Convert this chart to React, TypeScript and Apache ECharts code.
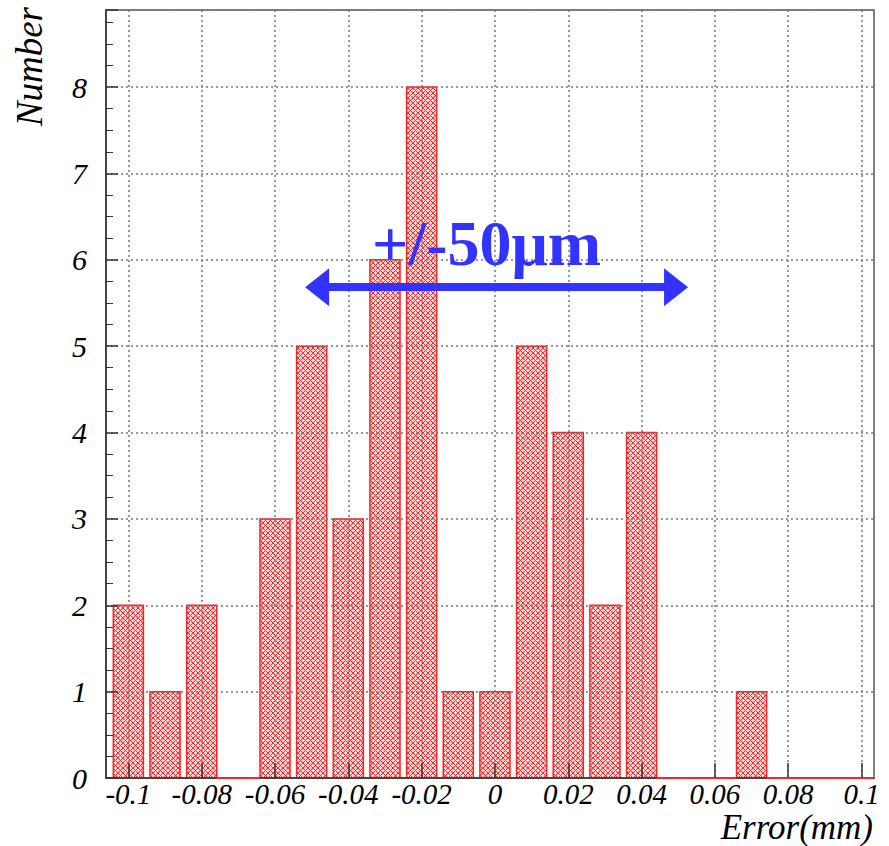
import React, { useEffect, useRef } from "react";
import * as echarts from "echarts";

// Histogram bins (centres, mm) and counts
const binCenters = [
  -0.1, -0.09, -0.08, -0.07, -0.06, -0.05, -0.04, -0.03, -0.02, -0.01, 0,
  0.01, 0.02, 0.03, 0.04, 0.05, 0.06, 0.07, 0.08, 0.09, 0.1,
];
const counts = [2, 1, 2, 0, 3, 5, 3, 6, 8, 1, 1, 5, 4, 2, 4, 0, 0, 1, 0, 0, 0];
const xTicks = [-0.1, -0.08, -0.06, -0.04, -0.02, 0, 0.02, 0.04, 0.06, 0.08, 0.1];
const arrowRange = [-0.0485, 0.0494];
const arrowLevel = 5.683;
const annotation = "+/-50\u03bcm";

const X_MIN = -0.1061;
const X_MAX = 0.1034;
const BIN = 0.01;
const HALF = 0.0041;
const SERIF = "'Liberation Serif', 'Times New Roman', Times, serif";

function makeHatch(): HTMLCanvasElement {
  const c = document.createElement("canvas");
  const n = 5;
  c.width = n;
  c.height = n;
  const ctx = c.getContext("2d")!;
  const img = ctx.createImageData(n, n);
  for (let y = 0; y < n; y++) {
    for (let x = 0; x < n; x++) {
      const i = (y * n + x) * 4;
      const on = (x + y) % n === 0 || (x - y + n) % n === 0;
      if (on) {
        img.data[i] = 255; img.data[i + 1] = 40; img.data[i + 2] = 40;
      } else {
        img.data[i] = 255; img.data[i + 1] = 215; img.data[i + 2] = 215;
      }
      img.data[i + 3] = 255;
    }
  }
  ctx.putImageData(img, 0, 0);
  return c;
}

export default function App() {
  const ref = useRef<HTMLDivElement>(null);
  useEffect(() => {
    if (!ref.current) return;
    const chart = echarts.init(ref.current, undefined, { renderer: "svg" });
    const hatch = makeHatch();
    const data = binCenters.map((c, i) => [c, counts[i]]);
    const fmt = (v: number) => String(+v.toFixed(2));
    chart.setOption({
      animation: false,
      backgroundColor: "#ffffff",
      grid: {
        left: 106, right: 15, top: 10, bottom: 68,
        show: true, borderColor: "#555", borderWidth: 1.5, backgroundColor: "transparent",
      },
      xAxis: {
        type: "value", min: X_MIN, max: X_MAX, z: 5,
        axisLine: { show: true, onZero: false, lineStyle: { color: "#333", width: 1.5 } },
        axisTick: { show: true, inside: true, length: 15, customValues: xTicks, lineStyle: { color: "#333", width: 1.5 } },
        axisLabel: {
          customValues: xTicks, formatter: fmt, margin: 2, lineHeight: 28,
          fontFamily: SERIF, fontStyle: "italic", fontSize: 29, color: "#000",
        },
        splitLine: { show: true, lineStyle: { color: "#777", width: 1.5, type: [2, 3] } },
      },
      yAxis: {
        type: "value", min: 0, max: 8.892, interval: 1, z: 5,
        axisLine: { show: true, onZero: false, lineStyle: { color: "#333", width: 1.5 } },
        axisTick: { show: true, inside: true, length: 12, lineStyle: { color: "#333", width: 1.5 } },
        minorTick: { show: true, splitNumber: 4, length: 7, lineStyle: { color: "#333", width: 1 } },
        axisLabel: {
          margin: 19, showMaxLabel: false,
          fontFamily: SERIF, fontStyle: "italic", fontSize: 30, color: "#000",
        },
        splitLine: { show: true, lineStyle: { color: "#777", width: 1.5, type: [2, 3] } },
      },
      series: [
        {
          type: "custom",
          clip: true,
          z: 2,
          data,
          encode: { x: 0, y: 1 },
          renderItem: (params: any, api: any) => {
            const c = api.value(0);
            const v = api.value(1);
            if (v === 0) return null;
            const tl = api.coord([c - HALF, v]);
            const br = api.coord([c + HALF, 0]);
            return {
              type: "rect",
              shape: { x: tl[0], y: tl[1], width: br[0] - tl[0], height: br[1] - tl[1] },
              style: { fill: { image: hatch, repeat: "repeat" }, stroke: "#ff2020", lineWidth: 1.5 },
            };
          },
          markLine: {
            silent: true,
            symbol: ["triangle", "triangle"],
            symbolSize: [38, 24],
            label: { show: false },
            lineStyle: { color: "#3333ff", width: 8, type: "solid" },
            data: [[{ coord: [arrowRange[0], arrowLevel] }, { coord: [arrowRange[1], arrowLevel] }]],
          },
        },
        {
          type: "custom",
          clip: false,
          z: 8,
          data,
          encode: { x: 0, y: 1 },
          renderItem: (params: any, api: any) => {
            const c = api.value(0);
            const v = api.value(1);
            if (v !== 0) return null;
            const p1 = api.coord([Math.max(X_MIN, c - BIN + HALF), 0]);
            const p2 = api.coord([Math.min(X_MAX, c + BIN - HALF), 0]);
            return {
              type: "line",
              z2: 100,
              shape: { x1: p1[0], y1: p1[1], x2: p2[0], y2: p2[1] },
              style: { stroke: "#ff2020", lineWidth: 2, fill: null },
            };
          },
        },
      ],
      graphic: [
        {
          type: "text", z: 10,
          style: {
            text: annotation, x: 372, y: 243, align: "left", verticalAlign: "middle",
            font: `bold 64px ${SERIF}`, fill: "#3333ff",
          },
        },
        {
          type: "text", z: 10, x: 29, y: 7, rotation: Math.PI / 2,
          style: {
            text: "Number", x: 0, y: 0, align: "right", verticalAlign: "middle",
            font: `italic 37px ${SERIF}`, fill: "#000",
          },
        },
        {
          type: "text", z: 10,
          style: {
            text: "Error(mm)", x: 873, y: 827, align: "right", verticalAlign: "middle",
            lineHeight: 30,
            font: `italic 35px ${SERIF}`, fill: "#000",
          },
        },
      ],
    });
    return () => chart.dispose();
  }, []);
  return (
    <div
      ref={ref}
      style={{ position: "fixed", left: 0, top: 0, width: 889, height: 846 }}
    />
  );
}
